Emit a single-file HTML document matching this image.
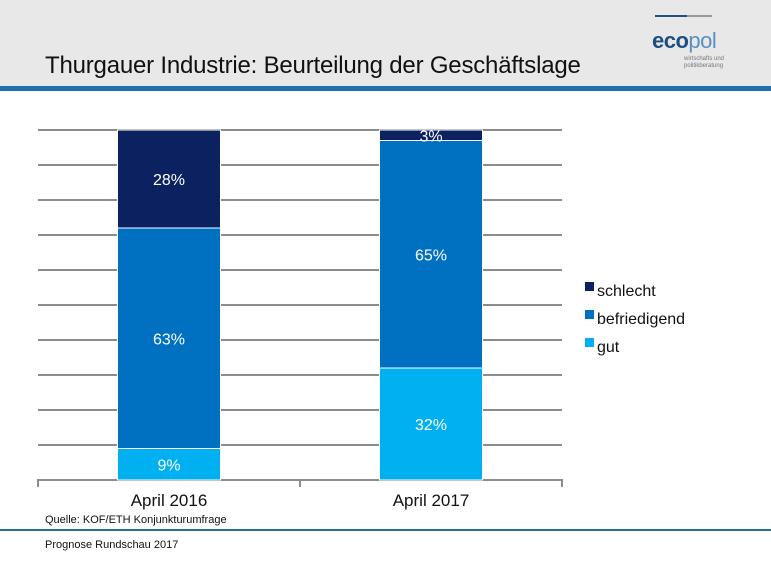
<!DOCTYPE html>
<html><head><meta charset="utf-8"><style>
body{margin:0;width:771px;height:578px;background:#fff;overflow:hidden;font-family:"Liberation Sans",sans-serif;position:relative}
.hdr{position:absolute;left:0;top:0;width:771px;height:86px;background:#e8e8e8}
.bar{position:absolute;left:0;top:86px;width:771px;height:5px;background:#1f6fae}
.title{position:absolute;left:45px;top:52px;font-size:24px;color:#111;letter-spacing:-0.2px}
</style></head><body>
<div class="hdr"></div>
<div class="bar"></div>
<div class="title">Thurgauer Industrie: Beurteilung der Geschäftslage</div>
<div style="position:absolute;left:640px;top:12px;width:110px;height:60px">
 <div style="position:absolute;left:15px;top:3px;width:32px;height:2px;background:#1f4f7f"></div>
 <div style="position:absolute;left:47px;top:3px;width:25px;height:2px;background:#999"></div>
 <div style="position:absolute;left:12px;top:16px;font-size:22px;font-weight:bold;color:#1f4f7f;letter-spacing:-0.5px">eco<span style="color:#5a8fbf;font-weight:normal">pol</span></div>
 <div style="position:absolute;left:44px;top:44px;font-size:6px;color:#777;line-height:7px">wirtschafts und<br>politikberatung</div>
</div>
<svg id="chart" width="771" height="578" style="position:absolute;left:0;top:0"></svg>
<div style="position:absolute;left:45px;top:514px;font-size:11px;color:#111">Quelle: KOF/ETH Konjunkturumfrage</div>
<div style="position:absolute;left:0;top:529px;width:771px;height:2px;background:#2e6e8e"></div>
<div style="position:absolute;left:45px;top:539px;font-size:11px;color:#111">Prognose Rundschau 2017</div>
<script>
const categories=["April 2016","April 2017"];
const gut=[9,32];
const befriedigend=[63,65];
const schlecht=[28,3];
const seriesNames=["gut","befriedigend","schlecht"];
const colors=["#00b0f0","#0070c0","#0b2160"];
const NS="http://www.w3.org/2000/svg";
const svg=document.getElementById("chart");
const x0=38,x1=562,yTop=130,yBot=480;
function y(v){return yBot-v*(yBot-yTop)/100;}
function bandX(i){const w=(x1-x0)/categories.length;return x0+w*i+w/2;}
function mk(t,a){const e=document.createElementNS(NS,t);for(const k in a)e.setAttribute(k,a[k]);svg.appendChild(e);return e;}
for(let v=10;v<=100;v+=10){
 const g=mk("line",{x1:x0,x2:x1,y1:y(v),y2:y(v),stroke:"#8c8c8c","stroke-width":2});
 
 
}
const ax=mk("path",{d:`M${x0} 487V${yBot}H${x1}V487M${(x0+x1)/2} ${yBot}V487`,stroke:"#8c8c8c","stroke-width":2,fill:"none"});


const data=[gut,befriedigend,schlecht];
const bw=103;
categories.forEach((c,i)=>{
 let acc=0;const cx=bandX(i);
 data.forEach((s,k)=>{
  const v=s[i];
  const r=mk("rect",{x:cx-bw/2,y:y(acc+v),width:bw,height:y(acc)-y(acc+v),fill:colors[k],stroke:"#fff","stroke-width":1});
  
  
  const t=mk("text",{x:cx,y:(y(acc)+y(acc+v))/2+6,"text-anchor":"middle",fill:"#fff","font-size":16,"font-family":"Liberation Sans, sans-serif"});
  t.textContent=v+"%";
  
  
  acc+=v;
 });
 const l=mk("text",{x:cx,y:506,"text-anchor":"middle",fill:"#111","font-size":17,"font-family":"Liberation Sans, sans-serif"});
 l.textContent=c;
 
 
});
const legendOrder=[2,1,0];
legendOrder.forEach((k,j)=>{
 const ly=290+j*28;
 const sq=mk("rect",{x:585,y:ly-8,width:9,height:9,fill:colors[k]});
 
 
 const t=mk("text",{x:597,y:ly+6,fill:"#111","font-size":16,"font-family":"Liberation Sans, sans-serif"});
 t.textContent=seriesNames[k];
 
 
});
</script>
</body></html>
